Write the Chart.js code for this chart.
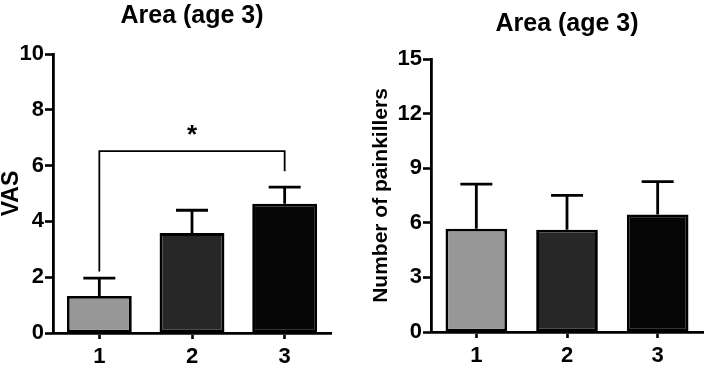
<!DOCTYPE html>
<html>
<head>
<meta charset="utf-8">
<script src="https://cdn.jsdelivr.net/npm/chart.js@4.4.1/dist/chart.umd.min.js"></script>
<style>
  html, body { margin: 0; padding: 0; background: #fff; }
  #wrap { position: relative; width: 709px; height: 365px; }
  .box { position: absolute; top: 0; height: 365px; }
  #boxVas { left: 0; width: 355px; }
  #boxPain { left: 355px; width: 354px; }
</style>
</head>
<body>
<div id="wrap">
  <div class="box" id="boxVas"><canvas id="chartVas"></canvas></div>
  <div class="box" id="boxPain"><canvas id="chartPain"></canvas></div>
</div>
<script>
/* ============================
   DATOS
   ============================ */
const grupos = ["1", "2", "3"];
const colores = ["#979797", "#272727", "#060606"];

const tituloVas = "Area (age 3)";
const ejeVas = "VAS";
const vasMedia = [1.33, 3.58, 4.63];
const vasError = [0.64, 0.82, 0.60];
const vasTicks = [0, 2, 4, 6, 8, 10];

// corchete de significación entre grupo 1 y 3
const sigDesde = 0;
const sigHasta = 2;
const sigAltura = 6.52;
const sigPataIzq = 2.2;
const sigPataDer = 5.8;
const sigTexto = "*";
const sigTextoY = 7.35;

const tituloPain = "Area (age 3)";
const ejePain = "Number of painkillers";
const painMedia = [5.67, 5.62, 6.46];
const painError = [2.45, 1.89, 1.80];
const painTicks = [0, 3, 6, 9, 12, 15];

const FUENTE = "'Liberation Sans', Arial, sans-serif";

/* ERROR BARS (solo hacia arriba) */
const errorBars = {
  id: "errorBars",
  afterDatasetsDraw(chart, args, opts) {
    const ctx = chart.ctx;
    const y = chart.scales.y;
    const meta = chart.getDatasetMeta(0);
    const errores = opts.errores || [];
    ctx.save();
    ctx.strokeStyle = "#000";
    ctx.lineWidth = 2.8;
    ctx.lineCap = "butt";
    meta.data.forEach((bar, i) => {
      const v = chart.data.datasets[0].data[i];
      const top = y.getPixelForValue(v + errores[i]);
      ctx.beginPath();
      ctx.moveTo(bar.x, bar.y);
      ctx.lineTo(bar.x, top);
      ctx.moveTo(bar.x - opts.cap, top);
      ctx.lineTo(bar.x + opts.cap, top);
      ctx.stroke();
    });
    ctx.restore();
  }
};

/* CORCHETE + ASTERISCO */
const corchete = {
  id: "corchete",
  afterDatasetsDraw(chart, args, opts) {
    if (!opts.activo) return;
    const ctx = chart.ctx;
    const x = chart.scales.x, y = chart.scales.y;
    const x1 = x.getPixelForValue(sigDesde);
    const x2 = x.getPixelForValue(sigHasta);
    const yTop = y.getPixelForValue(sigAltura);
    ctx.save();
    ctx.strokeStyle = "#000";
    ctx.lineWidth = 1.8;
    ctx.beginPath();
    ctx.moveTo(x1, y.getPixelForValue(sigPataIzq));
    ctx.lineTo(x1, yTop);
    ctx.lineTo(x2, yTop);
    ctx.lineTo(x2, y.getPixelForValue(sigPataDer));
    ctx.stroke();
    ctx.fillStyle = "#000";
    ctx.font = "bold 26px " + FUENTE;
    ctx.textAlign = "center";
    ctx.textBaseline = "alphabetic";
    ctx.fillText(sigTexto, (x1 + x2) / 2, y.getPixelForValue(sigTextoY) + 15);
    ctx.restore();
  }
};

/* TITULO centrado sobre el área del gráfico */
const tituloArea = {
  id: "tituloArea",
  afterDraw(chart, args, opts) {
    const ctx = chart.ctx;
    const a = chart.chartArea;
    ctx.save();
    ctx.fillStyle = "#000";
    ctx.font = "bold 25px " + FUENTE;
    ctx.textAlign = "center";
    ctx.textBaseline = "alphabetic";
    ctx.fillText(opts.texto, (a.left + a.right) / 2, opts.base);
    ctx.restore();
  }
};

function crearGrafico(idCanvas, cfg) {
  const ctx = document.getElementById(idCanvas).getContext("2d");
  return new Chart(ctx, {
    type: "bar",
    data: {
      labels: grupos,
      datasets: [{
        data: cfg.medias,
        backgroundColor: colores,
        borderColor: "#000",
        borderWidth: 2.8,
        borderSkipped: false,
        barPercentage: cfg.barPct,
        categoryPercentage: 1
      }]
    },
    options: {
      responsive: true,
      maintainAspectRatio: false,
      animation: false,
      layout: { padding: { top: cfg.top, right: cfg.right, left: 0, bottom: 0 } },
      plugins: {
        legend: { display: false },
        tooltip: { enabled: false },
        title: { display: false },
        errorBars: { errores: cfg.errores, cap: 16 },
        corchete: { activo: cfg.corchete },
        tituloArea: { texto: cfg.titulo, base: cfg.tituloBase }
      },
      scales: {
        x: {
          offset: true,
          grid: {
            offset: false,
            drawOnChartArea: false,
            drawTicks: true,
            tickLength: 6,
            tickWidth: 2.6,
            tickColor: "#000"
          },
          border: { display: true, color: "#000", width: 2.8 },
          ticks: {
            color: "#000",
            padding: 5,
            font: { family: FUENTE, size: 22, weight: "bold" }
          },
          afterFit: s => { s.height = cfg.ejeXAlto; }
        },
        y: {
          min: cfg.ticks[0],
          max: cfg.ticks[cfg.ticks.length - 1],
          afterBuildTicks: s => { s.ticks = cfg.ticks.map(v => ({ value: v })); },
          grid: {
            drawOnChartArea: false,
            drawTicks: true,
            tickLength: 8,
            tickWidth: 2.6,
            tickColor: "#000"
          },
          border: { display: true, color: "#000", width: 2.8 },
          ticks: {
            color: "#000",
            padding: 1,
            font: { family: FUENTE, size: 22, weight: "bold" }
          },
          title: {
            display: true,
            text: cfg.ejeTitulo,
            color: "#000",
            padding: { top: cfg.tituloPad, bottom: 0 },
            font: { family: FUENTE, size: cfg.ejeFuente, weight: "bold", lineHeight: 1 }
          },
          afterFit: s => { s.width = cfg.ejeYAncho; }
        }
      }
    },
    plugins: [errorBars, corchete, tituloArea]
  });
}

crearGrafico("chartVas", {
  medias: vasMedia, errores: vasError, ticks: vasTicks,
  titulo: tituloVas, tituloBase: 23, ejeTitulo: ejeVas, ejeFuente: 23,
  top: 54, right: 24, ejeYAncho: 53, ejeXAlto: 32, tituloPad: 0,
  barPct: 0.70, corchete: true
});

crearGrafico("chartPain", {
  medias: painMedia, errores: painError, ticks: painTicks,
  titulo: tituloPain, tituloBase: 31, ejeTitulo: ejePain, ejeFuente: 21,
  top: 59, right: 6, ejeYAncho: 76, ejeXAlto: 33, tituloPad: 16,
  barPct: 0.68, corchete: false
});
</script>
</body>
</html>
